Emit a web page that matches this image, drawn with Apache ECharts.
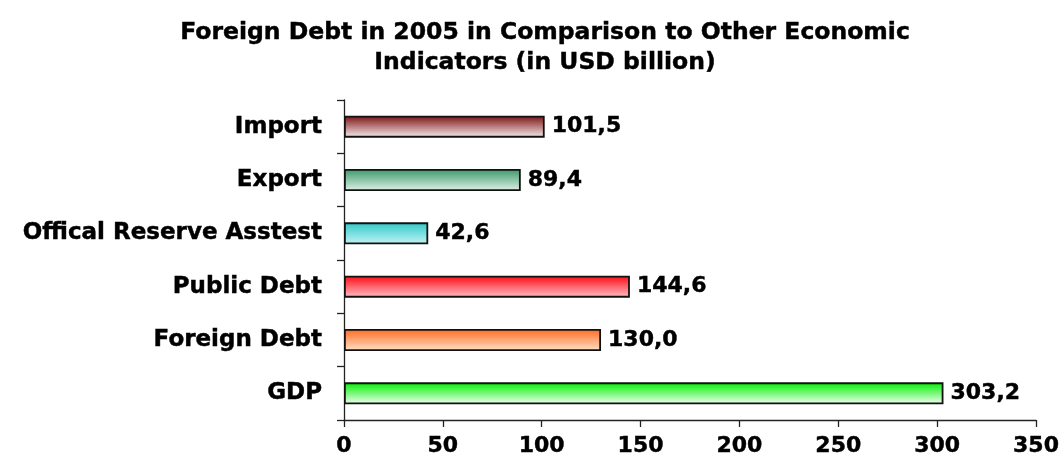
<!DOCTYPE html>
<html><head><meta charset="utf-8">
<script src="https://cdn.jsdelivr.net/npm/echarts@6/dist/echarts.min.js"></script>
<style>html,body{margin:0;padding:0;background:#fff}#c{width:1064px;height:469px}</style>
</head><body><div id="c"></div>
<script>
var categories = ['GDP', 'Foreign Debt', 'Public Debt', 'Offical Reserve Asstest', 'Export', 'Import'];
var values = [303.2, 130.0, 144.6, 42.6, 89.4, 101.5];
var topColors = ['#00f000', '#ff6a20', '#ff0a14', '#30c8c8', '#3a9868', '#7a1010'];
var bottomColors = ['#f4fff4', '#ffe2c8', '#ffc0c6', '#c4f4f4', '#e0f2e8', '#f8eef0'];
var xTicks = [0, 50, 100, 150, 200, 250, 300, 350];

var chart = echarts.init(document.getElementById('c'));
var font = 'DejaVu Sans, sans-serif';
var heavy = {textBorderColor: '#000', textBorderWidth: 0.45};
chart.setOption({
  animation: false,
  title: {
    text: 'Foreign Debt in 2005 in Comparison to Other Economic\nIndicators (in USD billion)',
    left: 540, top: 13, textAlign: 'center',
    textStyle: Object.assign({fontFamily: font, fontWeight: 'bold', fontSize: 23.5, lineHeight: 30, color: '#000'}, heavy)
  },
  grid: {left: 344, right: 28, top: 100, bottom: 49},
  xAxis: {
    type: 'value', min: xTicks[0], max: xTicks[xTicks.length - 1], interval: 50,
    splitLine: {show: false},
    axisLine: {show: true, lineStyle: {color: '#222', width: 1.3}},
    axisTick: {show: true, length: 7, lineStyle: {color: '#222', width: 1.3}},
    axisLabel: Object.assign({fontFamily: font, fontWeight: 'bold', fontSize: 22, color: '#000', margin: 15}, heavy)
  },
  yAxis: {
    type: 'category', data: categories,
    axisLine: {show: true, lineStyle: {color: '#222', width: 1.3}},
    axisTick: {show: true, length: 7, lineStyle: {color: '#222', width: 1.3}},
    axisLabel: Object.assign({fontFamily: font, fontWeight: 'bold', fontSize: 23, color: '#000', margin: 22}, heavy)
  },
  series: [{
    type: 'bar',
    barWidth: 22,
    data: values.map(function (v, i) {
      return {
        value: v,
        itemStyle: {
          color: new echarts.graphic.LinearGradient(0, 0, 0, 1, [
            {offset: 0, color: topColors[i]},
            {offset: 1, color: bottomColors[i]}
          ])
        }
      };
    }),
    itemStyle: {borderColor: '#111', borderWidth: 1.8},
    label: Object.assign({
      show: true, position: 'right', distance: 7,
      fontFamily: font, fontWeight: 'bold', fontSize: 22, color: '#000',
      formatter: function (p) { return p.value.toFixed(1).replace('.', ','); }
    }, heavy)
  }]
});
</script></body></html>
